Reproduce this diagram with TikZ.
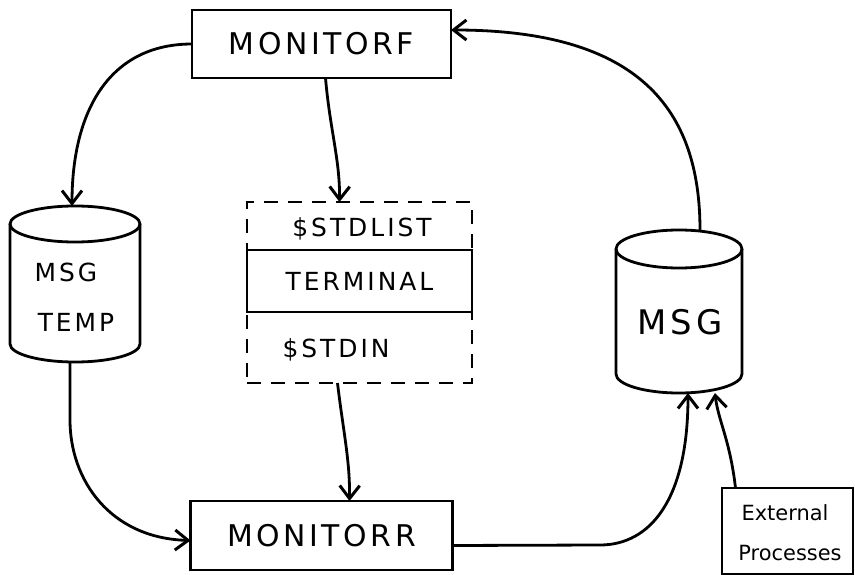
\documentclass[tikz,border=0pt]{standalone}
\usepackage{fontspec}
\newfontfamily\hand[LetterSpace=12]{DejaVu Sans}
\newfontfamily\handtight{DejaVu Sans}
\usetikzlibrary{arrows.meta}
\begin{document}
\begin{tikzpicture}[x=1bp,y=-1bp,
  line width=2.8bp,
  every node/.style={inner sep=0pt, outer sep=0pt},
  procbox/.style={draw, font=\hand\fontsize{30}{32}\selectfont},
  label/.style={font=\hand\fontsize{25}{27}\selectfont},
  small/.style={font=\handtight\fontsize{21}{23}\selectfont},
  ghost/.style={draw=none},
  arr/.style={-{Straight Barb[length=13bp,width=20bp,line width=3bp]}}]
\useasboundingbox (0,0) rectangle (855,575);

% monitor processes
\node[procbox, minimum width=259bp, minimum height=68bp] (mf) at (321.5,44) {MONITORF};
\node[procbox, minimum width=262bp, minimum height=69bp] (mr) at (321.5,535.5) {MONITORR};

% terminal with its two files
\node[draw, dashed, dash pattern=on 14bp off 10bp, minimum width=225bp, minimum height=181bp] (tbox) at (359.5,292.5) {};
\node[draw, minimum width=225bp, minimum height=62bp, label] (term) at (359.5,281) {TERMINAL};
\node[label] (sl) at (362,229) {\$STDLIST};
\node[label] (si) at (336,350) {\$STDIN};

% message files (cylinders)
\draw (75,224) ellipse [x radius=65bp, y radius=18bp];
\draw (10,224) -- (10,344) arc[start angle=180, end angle=360, x radius=65bp, y radius=18bp] -- (140,224);
\node[ghost, minimum width=130bp, minimum height=156bp] (mt) at (75,284) {};
\node[label] (mtt1) at (66,272) {MSG};
\node[label] (mtt2) at (76,322) {TEMP};

\draw (679,249) ellipse [x radius=63bp, y radius=19bp];
\draw (616,249) -- (616,374) arc[start angle=180, end angle=360, x radius=63bp, y radius=19bp] -- (742,249);
\node[ghost, minimum width=126bp, minimum height=163bp] (msg) at (679,311.5) {};
\node[font=\hand\fontsize{34}{36}\selectfont] (msgt) at (680,322) {MSG};

% external processes
\draw (853,488) -- (722,488) -- (722,574) -- (853,574) -- cycle;
\node[ghost, minimum width=131bp, minimum height=86bp] (ext) at (787.5,531) {};
\node[small] (ex1) at (785,513) {External};
\node[small] (ex2) at (790,553) {Processes};

% connectors
\draw[arr] (mf.west) .. controls (110,44) and (72,110) .. ([xshift=-3bp]mt.north);
\draw[arr] ([xshift=4bp]mf.south) .. controls (330,130) and (340,160) .. ([xshift=-20bp]tbox.north);
\draw[arr] ([xshift=-5bp]mt.south) -- (70,420) .. controls (70,480) and (110,538) .. ([yshift=-5bp]mr.west);
\draw[arr] ([xshift=-22bp]tbox.south) .. controls (343,430) and (350,460) .. ([xshift=28bp]mr.north);
\draw[arr] ([yshift=-10bp]mr.east) -- (600,545) .. controls (650,545) and (688,500) .. ([xshift=9bp]msg.south);
\draw[arr] ([xshift=21bp]msg.north) .. controls (700,110) and (640,30) .. ([yshift=14bp]mf.east);
\draw[arr] ([xshift=-52bp]ext.north) .. controls (730,440) and (718,420) .. ([xshift=36bp]msg.south);
\end{tikzpicture}
\end{document}
